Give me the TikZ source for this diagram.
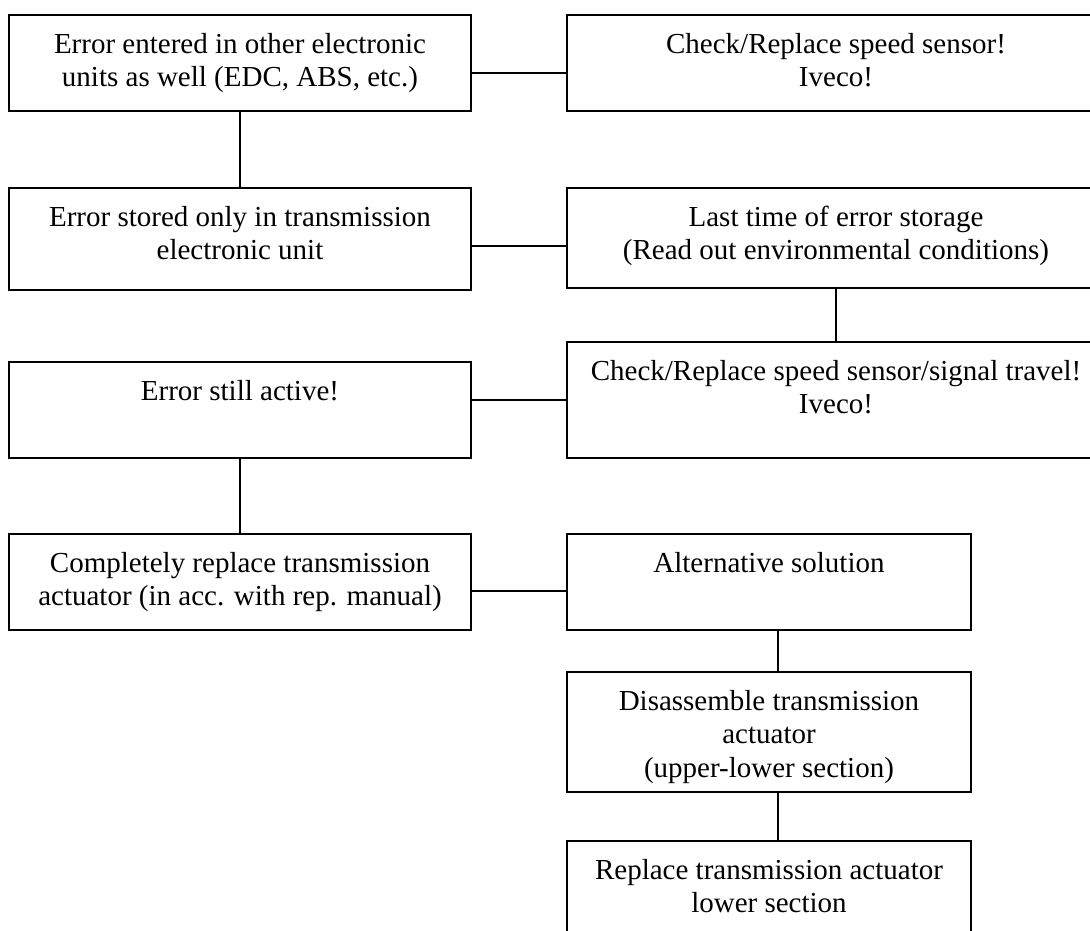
\documentclass[tikz,border=0pt]{standalone}
\usepackage{fontspec}
\setmainfont{Liberation Serif}
\begin{document}
\begin{tikzpicture}[x=0.75pt,y=-0.75pt,
  chartbox/.style={draw=black,line width=1.1pt,rectangle,inner sep=0pt,outer sep=0pt},
  boxtext/.style={anchor=north,inner sep=0pt,align=center,yshift=-10.6pt,
    font=\fontsize{21.75pt}{25.3pt}\selectfont},
  conn/.style={draw=black,line width=1.1pt}]
\useasboundingbox (0,0) rectangle (1090,931);
\clip (0,0) rectangle (1090,931);
\fill[white] (0,0) rectangle (1090,931);

% boxes
\node[chartbox,minimum width=346.5pt,minimum height=72pt]    (b1)  at (240,63) {};
\node[chartbox,minimum width=403.5pt,minimum height=72pt]    (b2)  at (836,63) {};
\node[chartbox,minimum width=346.5pt,minimum height=76.5pt]  (b3)  at (240,239) {};
\node[chartbox,minimum width=403.5pt,minimum height=75pt]    (b4)  at (836,238) {};
\node[chartbox,minimum width=403.5pt,minimum height=87pt]    (b5)  at (836,400) {};
\node[chartbox,minimum width=346.5pt,minimum height=72pt]    (b6)  at (240,410) {};
\node[chartbox,minimum width=346.5pt,minimum height=72pt]    (b7)  at (240,582) {};
\node[chartbox,minimum width=303pt,minimum height=72pt]      (b8)  at (769,582) {};
\node[chartbox,minimum width=303pt,minimum height=90pt]      (b9)  at (769,732) {};
\node[chartbox,minimum width=303pt,minimum height=90pt]      (b10) at (769,901) {};

% texts
\node[boxtext] (t1)  at (b1.north)  {\strut Error entered in other electronic\\units as well (EDC, ABS, etc.)};
\node[boxtext] (t2)  at (b2.north)  {\strut Check/Replace speed sensor!\\Iveco!};
\node[boxtext] (t3)  at (b3.north)  {\strut Error stored only in transmission\\electronic unit};
\node[boxtext] (t4)  at (b4.north)  {\strut Last time of error storage\\(Read out environmental conditions)};
\node[boxtext] (t5)  at (b5.north)  {\strut Check/Replace speed sensor/signal travel!\\Iveco!};
\node[boxtext] (t6)  at (b6.north)  {\strut Error still active!};
\node[boxtext] (t7)  at (b7.north)  {\strut Completely replace transmission\\actuator (in acc. with rep. manual)};
\node[boxtext] (t8)  at (b8.north)  {\strut Alternative solution};
\node[boxtext] (t9)  at (b9.north)  {\strut Disassemble transmission\\actuator\\(upper-lower section)};
\node[boxtext] (t10) at (b10.north) {\strut Replace transmission actuator\\lower section};

% connectors
\draw[conn] ([yshift=-7.5pt]b1.east) coordinate (c1) -- (c1 -| b2.west);
\draw[conn] (b1.south) -- (b3.north);
\draw[conn] ([yshift=-5.25pt]b3.east) coordinate (c2) -- (c2 -| b4.west);
\draw[conn] (b4.south) -- (b5.north);
\draw[conn] (b6.east |- b5.west) -- (b5.west);
\draw[conn] (b6.south) -- (b7.north);
\draw[conn] ([yshift=-6.75pt]b7.east) coordinate (c3) -- (c3 -| b8.west);
\draw[conn] ([xshift=6.75pt]b8.south) coordinate (c4) -- (c4 |- b9.north);
\draw[conn] ([xshift=6.75pt]b9.south) coordinate (c5) -- (c5 |- b10.north);
\end{tikzpicture}
\end{document}
